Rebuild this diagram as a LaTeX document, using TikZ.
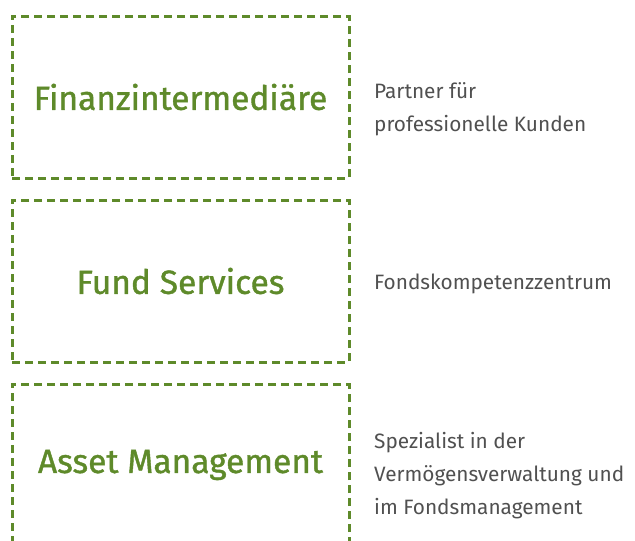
\documentclass[tikz,border=0pt]{standalone}
\usepackage{fontspec}
\setmainfont{Fira Sans}
\newfontfamily\headfont[FakeBold=1.2]{Fira Sans}
\usepackage{xcolor}
\definecolor{leafgreen}{RGB}{94,138,42}
\definecolor{notegray}{RGB}{80,80,80}

\begin{document}
\begin{tikzpicture}[x=1pt, y=-1pt,
		unit/.style={draw=leafgreen, line width=3pt, dash pattern=on 8pt off 5pt,
				minimum width=337pt, minimum height=162pt, inner sep=0pt,
				text=leafgreen, font=\headfont\fontsize{33.5}{40}\selectfont},
		note/.style={anchor=west, align=left, text=notegray, inner sep=0pt,
				font=\fontsize{20.8}{33}\selectfont},
	]
	\useasboundingbox (0,0) rectangle (635,541);
	\clip (0,0) rectangle (635,541);

	\node [unit] (fi) at (180.5,97) {Finanzintermediäre};
	\node [unit] (fs) at (180.5,281) {Fund Services};
	\node [unit] (am) at (180.5,465) {Asset Management};

	\node [note] (fi note) at (374,109) {Partner für\\professionelle Kunden};
	\node [note] (fs note) at (374,284) {Fondskompetenzzentrum};
	\node [note] (am note) at (374,476) {Spezialist in der\\Vermögensverwaltung und\\im Fondsmanagement};
\end{tikzpicture}
\end{document}
